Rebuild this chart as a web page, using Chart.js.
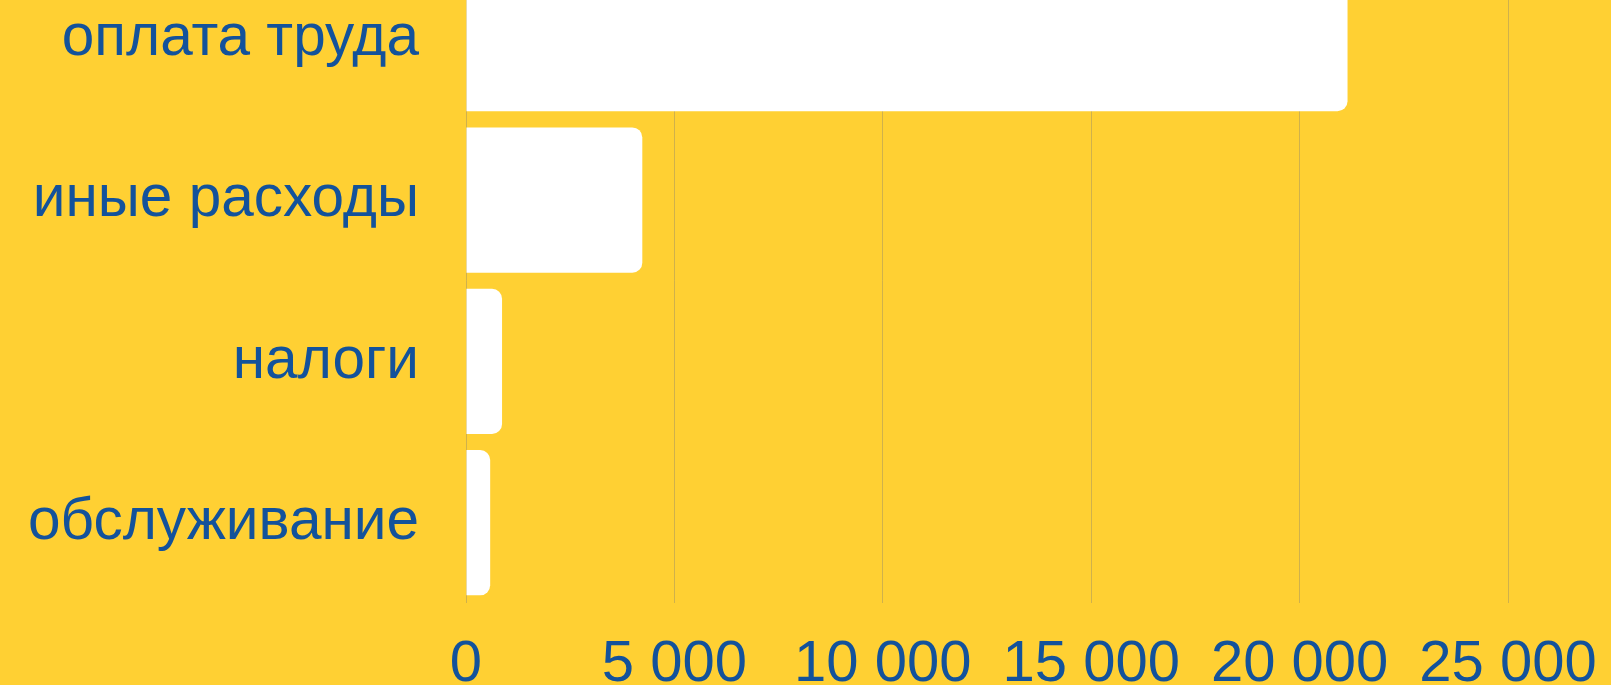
<!DOCTYPE html>
<html>
<head>
<meta charset="utf-8">
<script src="https://cdn.jsdelivr.net/npm/chart.js@4/dist/chart.umd.min.js"></script>
<style>
    html, body { margin: 0; padding: 0; background: #FFD033; }
    #frame { position: relative; width: 1611px; height: 685px; overflow: hidden; background: #FFD033; }
    #holder { position: absolute; left: 0; top: -50px; width: 1611px; height: 777px; }
</style>
</head>
<body>
<div id="frame">
    <div id="holder"><canvas id="costChart"></canvas></div>
</div>
<script>
// Categories and values
const categories = ['оплата труда', 'иные расходы', 'налоги', 'обслуживание'];
const amounts = [21150, 4230, 865, 580];
const axisMax = 25000;
const axisStep = 5000;

const textColor = '#13529b';
const fontFamily = '"Liberation Sans", Arial, sans-serif';

// Format numbers with a space between thousands: 25 000
function formatThousands(value) {
    return String(value).replace(/\B(?=(\d{3})+(?!\d))/g, ' ');
}

const chartData = {
    labels: categories,
    datasets: [{
        data: amounts,
        backgroundColor: '#ffffff',
        borderWidth: 0,
        borderRadius: 10,
        barPercentage: 0.9,
        categoryPercentage: 1.0
    }]
};

const config = {
    type: 'bar',
    data: chartData,
    options: {
        indexAxis: 'y',
        responsive: true,
        maintainAspectRatio: false,
        animation: false,
        layout: {
            padding: { top: 8, right: 103, bottom: 0, left: 0 }
        },
        plugins: {
            legend: { display: false },
            tooltip: { enabled: false }
        },
        scales: {
            x: {
                min: 0,
                max: axisMax,
                afterFit: (scale) => {
                    // let layout padding decide the right edge
                    scale.paddingLeft = 0;
                    scale.paddingRight = 0;
                },
                ticks: {
                    stepSize: axisStep,
                    padding: 27,
                    color: textColor,
                    font: { family: fontFamily, size: 58 },
                    callback: (value) => formatThousands(value)
                },
                grid: {
                    color: 'rgba(120, 120, 120, 0.35)',
                    lineWidth: 1,
                    drawTicks: false
                },
                border: { display: false }
            },
            y: {
                afterFit: (scale) => {
                    scale.width = 466;
                    scale.paddingTop = 0;
                    scale.paddingBottom = 0;
                },
                ticks: {
                    padding: 47,
                    color: textColor,
                    font: { family: fontFamily, size: 58.5 }
                },
                grid: { display: false, drawTicks: false },
                border: { display: false }
            }
        }
    }
};

new Chart(document.getElementById('costChart'), config);
</script>
</body>
</html>
